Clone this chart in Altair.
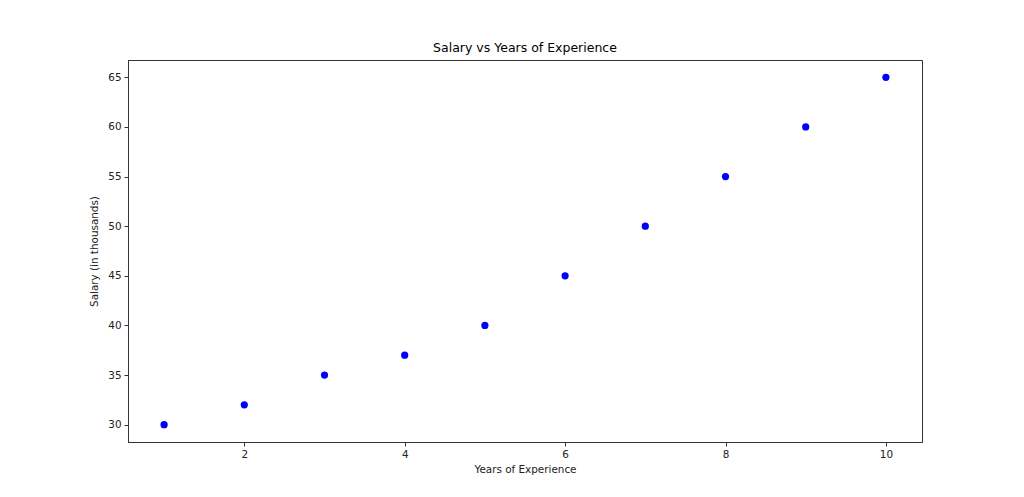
import altair as alt
import pandas as pd

years = [1, 2, 3, 4, 5, 6, 7, 8, 9, 10]
salary = [30, 32, 35, 37, 40, 45, 50, 55, 60, 65]

df = pd.DataFrame({"years": years, "salary": salary})

chart = alt.Chart(df).mark_circle(color="#0000ff", opacity=1, size=52).encode(
    x=alt.X("years:Q", title="Years of Experience",
            scale=alt.Scale(domain=[0.55, 10.45], nice=False, zero=False),
            axis=alt.Axis(values=[2, 4, 6, 8, 10], grid=False, format="d")),
    y=alt.Y("salary:Q", title="Salary (in thousands)",
            scale=alt.Scale(domain=[28.25, 66.75], nice=False, zero=False),
            axis=alt.Axis(values=[30, 35, 40, 45, 50, 55, 60, 65], grid=False)),
).properties(
    width=794, height=382,
    title=alt.TitleParams("Salary vs Years of Experience", fontSize=12.5,
                          font="DejaVu Sans", fontWeight="normal", offset=6),
    autosize=alt.AutoSizeParams(type="none"),
    padding={"left": 128, "top": 60, "right": 102, "bottom": 55},
).configure_view(stroke="#333333", strokeWidth=1).configure_axis(
    labelFont="DejaVu Sans", titleFont="DejaVu Sans", labelFontSize=10.4,
    titleFontSize=10.4, titleFontWeight="normal", labelColor="#222222",
    titleColor="#222222", tickColor="#333333", domainColor="#333333",
    tickSize=4, labelPadding=3, domain=True,
).configure_axisX(titlePadding=5).configure_axisY(titlePadding=8)

chart.save("out.html", embed_options={"renderer": "svg", "actions": False})
